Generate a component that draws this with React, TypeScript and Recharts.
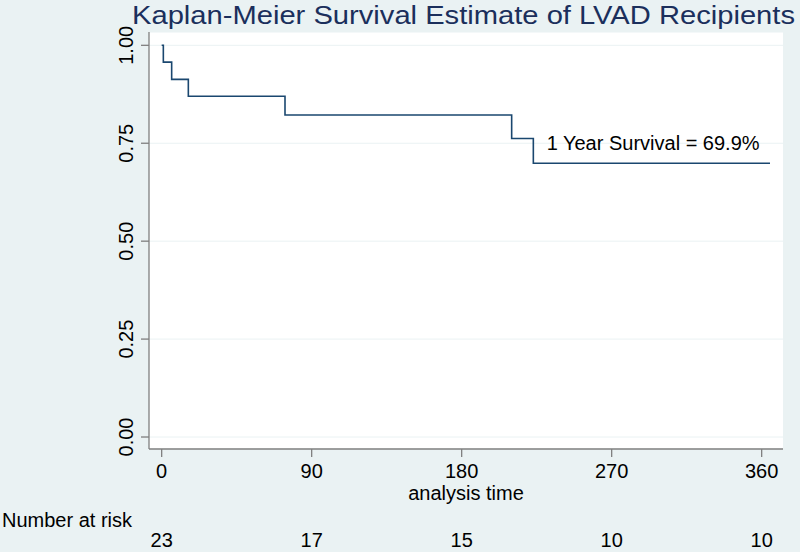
import React from "react";
import {
  LineChart, Line, XAxis, YAxis, CartesianGrid, ReferenceDot,
} from "recharts";

// Kaplan-Meier steps (days, survival)
const times = [0, 1, 6, 16, 74, 210, 223, 365];
const survival = [1.0, 0.957, 0.913, 0.87, 0.822, 0.762, 0.699, 0.699];

const xTicks = [0, 90, 180, 270, 360];
const yTicks = [0, 0.25, 0.5, 0.75, 1];
const atRisk = [23, 17, 15, 10, 10];

const FONT = '"Liberation Sans", Arial, Helvetica, sans-serif';
const NAVY = "#1a476f";
const AXIS = "#7f7f7f";
const BG = "#eaf2f3";

const data = times.map((t, i) => ({ t, s: survival[i] }));

const YTick = ({ x, y, payload }: any) => (
  <text
    x={x}
    y={y}
    transform={`rotate(-90 ${x} ${y})`}
    textAnchor="middle"
    fill="#000"
    fontSize={20}
    fontFamily={FONT}
  >
    {payload.value.toFixed(2)}
  </text>
);

export default function App() {
  return (
    <div style={{ position: "absolute", left: 0, top: 0, width: 800, height: 552, background: BG, fontFamily: FONT }}>
      <LineChart
        width={800}
        height={552}
        data={data}
        margin={{ top: 32, right: 17, bottom: 0, left: 0 }}
      >
        <CartesianGrid horizontal vertical={false} stroke={BG} fill="#ffffff" />
        <XAxis
          dataKey="t"
          type="number"
          domain={[-7.6, 372.8]}
          allowDataOverflow
          ticks={xTicks}
          interval={0}
          height={85}
          tickSize={8}
          tickMargin={7}
          stroke={AXIS}
          strokeWidth={1.3}
          tick={{ fill: "#000", fontSize: 20, fontFamily: FONT }}
          label={{ value: "analysis time", position: "insideTop", offset: 37, fill: "#000", fontSize: 20, fontFamily: FONT }}
        />
        {/* number-at-risk row, drawn as a second bottom axis */}
        <XAxis
          xAxisId="risk"
          dataKey="t"
          type="number"
          domain={[-7.6, 372.8]}
          allowDataOverflow
          ticks={xTicks}
          interval={0}
          height={18}
          tickSize={0}
          tickMargin={-1}
          axisLine={false}
          tickLine={false}
          tick={{ fill: "#000", fontSize: 20, fontFamily: FONT }}
          tickFormatter={(v: number) => String(atRisk[xTicks.indexOf(v)])}
        />
        <YAxis
          type="number"
          domain={[-0.0306, 1.034]}
          allowDataOverflow
          ticks={yTicks}
          interval={0}
          width={149}
          tickSize={8}
          tickMargin={8}
          stroke={AXIS}
          strokeWidth={1.3}
          tick={<YTick />}
        />
        <Line
          type="stepAfter"
          dataKey="s"
          stroke={NAVY}
          strokeWidth={1.6}
          dot={false}
          activeDot={false}
          isAnimationActive={false}
        />
        <ReferenceDot
          x={228}
          y={0.75}
          r={0}
          fill="none"
          stroke="none"
          label={{ value: "1 Year Survival = 69.9%", position: "right", offset: 5, fill: "#000", fontSize: 20, fontFamily: FONT }}
        />
      </LineChart>
      <svg
        width={800}
        height={552}
        style={{ position: "absolute", left: 0, top: 0, pointerEvents: "none" }}
      >
        <text x={132} y={24} fontSize={26.5} fill="#1b2f5c" fontFamily={FONT} textLength={663} lengthAdjust="spacingAndGlyphs">
          Kaplan-Meier Survival Estimate of LVAD Recipients
        </text>
        <text x={2} y={527} fontSize={20} fill="#000" fontFamily={FONT}>
          Number at risk
        </text>
      </svg>
    </div>
  );
}
